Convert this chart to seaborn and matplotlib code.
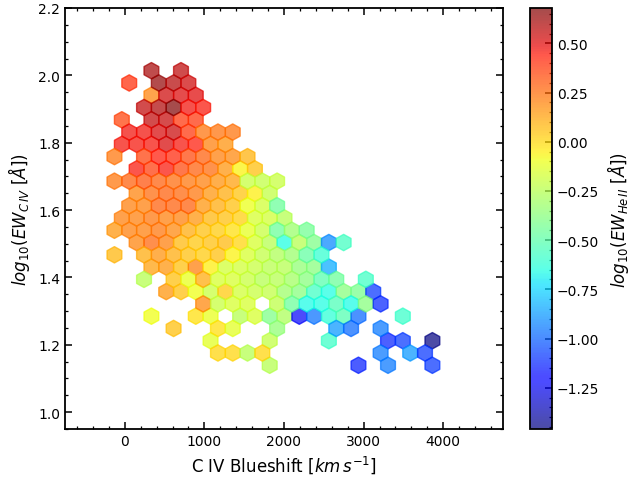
import numpy as np
import matplotlib
matplotlib.use('Agg')
import matplotlib.pyplot as plt
import seaborn as sns
from matplotlib.ticker import AutoMinorLocator

# one entry per row of hexagons: log10 EW(C IV), the C IV blueshifts in that row,
# and the mean log10 EW(He II) of each hexagon
civ_rows = [2.014, 1.977, 1.941, 1.905, 1.868, 1.832, 1.795, 1.759, 1.722, 1.686,
            1.650, 1.613, 1.577, 1.540, 1.504, 1.467, 1.431, 1.394, 1.358, 1.321,
            1.285, 1.249, 1.212, 1.176, 1.139]

blueshift_rows = [
    [335, 706],
    [56, 428, 614, 799],
    [335, 521, 706, 892],
    [242, 428, 614, 799, 985],
    [-36, 335, 521, 706, 892],
    [56, 242, 428, 614, 799, 985, 1171, 1356],
    [-36, 149, 335, 521, 706, 892, 1078, 1264],
    [-129, 242, 428, 614, 799, 985, 1171, 1356, 1542],
    [149, 335, 521, 706, 892, 1078, 1264, 1449, 1635],
    [-129, 56, 242, 428, 614, 799, 985, 1171, 1356, 1542, 1728, 1913],
    [149, 335, 521, 706, 892, 1078, 1264, 1449, 1635, 1821],
    [56, 242, 428, 614, 799, 985, 1171, 1356, 1542, 1728, 1913],
    [-36, 149, 335, 521, 706, 892, 1078, 1264, 1449, 1635, 1821, 2006],
    [-129, 56, 242, 428, 614, 799, 985, 1171, 1356, 1542, 1728, 1913, 2099, 2285],
    [149, 335, 521, 706, 892, 1078, 1264, 1449, 1635, 1821, 2006, 2192, 2378, 2563, 2749],
    [-129, 242, 428, 614, 799, 985, 1171, 1356, 1542, 1728, 1913, 2099, 2285, 2471],
    [335, 521, 706, 892, 1078, 1264, 1449, 1635, 1821, 2006, 2192, 2378, 2563],
    [242, 614, 799, 985, 1171, 1356, 1542, 1728, 1913, 2099, 2285, 2471, 2656, 3028],
    [521, 706, 892, 1078, 1264, 1449, 1635, 1821, 2006, 2192, 2378, 2563, 2749, 2935, 3121],
    [985, 1171, 1356, 1542, 1913, 2099, 2285, 2471, 2656, 2842, 3028, 3213],
    [335, 892, 1078, 1449, 1635, 1821, 2006, 2192, 2378, 2563, 2749, 2935, 3492],
    [614, 1171, 1356, 1913, 2656, 2842, 3213],
    [1078, 1821, 2563, 3306, 3492, 3863],
    [1171, 1356, 1542, 1728, 3213, 3585, 3770],
    [1821, 2935, 3306, 3863],
]

heii_rows = [
    [0.61, 0.57],
    [0.40, 0.64, 0.58, 0.53],
    [0.20, 0.53, 0.51, 0.50],
    [0.56, 0.59, 0.68, 0.47, 0.45],
    [0.35, 0.56, 0.55, 0.38, 0.38],
    [0.47, 0.47, 0.52, 0.54, 0.38, 0.24, 0.24, 0.24],
    [0.46, 0.46, 0.46, 0.52, 0.46, 0.44, 0.21, 0.17],
    [0.23, 0.36, 0.44, 0.42, 0.34, 0.28, 0.21, 0.19, 0.09],
    [0.45, 0.37, 0.45, 0.34, 0.28, 0.26, 0.16, -0.06, 0.06],
    [0.23, 0.28, 0.32, 0.28, 0.26, 0.23, 0.21, 0.17, 0.13, -0.20, -0.22, -0.20],
    [0.20, 0.26, 0.28, 0.27, 0.23, 0.16, 0.11, 0.05, -0.05, -0.22],
    [0.21, 0.21, 0.28, 0.28, 0.28, 0.16, 0.11, 0.06, -0.10, -0.18, -0.45],
    [0.21, 0.21, 0.23, 0.21, 0.21, 0.16, 0.08, 0.06, 0.02, -0.16, -0.18, -0.25],
    [0.16, 0.21, 0.21, 0.23, 0.19, 0.11, 0.06, 0.03, -0.02, -0.12, -0.20, -0.45, -0.33, -0.44],
    [0.20, 0.27, 0.21, 0.07, 0.04, 0.06, 0.07, 0.01, -0.16, -0.25, -0.65, -0.25, -0.40, -0.91, -0.56],
    [0.08, 0.11, 0.17, 0.11, 0.06, 0.03, 0.06, -0.06, -0.16, -0.22, -0.27, -0.33, -0.48, -0.60],
    [0.13, 0.16, 0.06, 0.21, -0.05, -0.18, -0.18, -0.20, -0.24, -0.25, -0.35, -0.38, -0.84],
    [-0.25, 0.06, -0.11, 0.11, -0.16, -0.16, -0.20, -0.25, -0.25, -0.30, -0.38, -0.51, -0.45, -0.57],
    [0.16, 0.06, -0.09, -0.20, 0.03, -0.18, -0.20, -0.22, -0.32, -0.38, -0.57, -0.65, -0.38, -0.42, -1.09],
    [0.19, -0.20, -0.16, -0.16, -0.23, -0.45, -0.66, -0.65, -0.54, -0.66, -0.38, -1.12],
    [-0.09, -0.02, -0.11, -0.25, -0.16, -0.40, -0.28, -1.23, -0.96, -0.62, -0.52, -0.98, -0.59],
    [0.06, -0.02, -0.13, -0.35, -0.88, -0.98, -0.95],
    [-0.13, -0.22, -0.58, -1.13, -1.08, -1.46],
    [0.01, 0.01, -0.25, 0.01, -0.95, -0.88, -1.09],
    [-0.25, -1.14, -0.95, -1.09],
]

blueshift = np.concatenate(blueshift_rows)
log_ew_civ = np.concatenate([[y] * len(xs) for y, xs in zip(civ_rows, blueshift_rows)])
log_ew_heii = np.concatenate(heii_rows)

sns.set_style('ticks', {'axes.edgecolor': 'black', 'xtick.color': 'black',
                        'ytick.color': 'black', 'text.color': 'black',
                        'axes.labelcolor': 'black',
                        'xtick.direction': 'in', 'ytick.direction': 'in'})
plt.rcParams['font.family'] = ['DejaVu Sans']

fig = plt.figure(figsize=(6.3, 4.81), dpi=100)
ax = fig.add_axes([65 / 630, 51 / 481, 438 / 630, 421 / 481])
cax = fig.add_axes([530 / 630, 51 / 481, 22 / 630, 421 / 481])

hb = ax.hexbin(blueshift, log_ew_civ, C=log_ew_heii, gridsize=(30, 17),
               extent=(-779.2, 4791.8, 0.9206, 2.1596), cmap='jet', alpha=0.7)

ax.set_xlim(-750, 4750)
ax.set_ylim(0.95, 2.2)
ax.set_xticks([0, 1000, 2000, 3000, 4000])
ax.xaxis.set_minor_locator(AutoMinorLocator(5))
ax.yaxis.set_minor_locator(AutoMinorLocator(4))
ax.tick_params(which='both', direction='in', top=True, right=True, labelsize=10)
ax.tick_params(which='major', length=5, width=1.1)
ax.tick_params(which='minor', length=2.5, width=0.9)
for s in ax.spines.values():
    s.set_linewidth(1.3)

ax.set_xlabel(r'C IV Blueshift [$km\,s^{-1}$]', fontsize=12)
ax.set_ylabel(r'$log_{10}(EW_{C\,IV}\ [\AA])$', fontsize=12)

cb = fig.colorbar(hb, cax=cax)
cb.set_label(r'$log_{10}(EW_{He\,II}\ [\AA])$', fontsize=12)
cb.ax.yaxis.set_minor_locator(AutoMinorLocator(5))
cb.ax.tick_params(which='both', direction='in', labelsize=10)
cb.ax.tick_params(which='major', length=5, width=1.1)
cb.ax.tick_params(which='minor', length=2.5, width=0.9)
cb.outline.set_linewidth(1.3)

fig.savefig('out.png', dpi=100)
